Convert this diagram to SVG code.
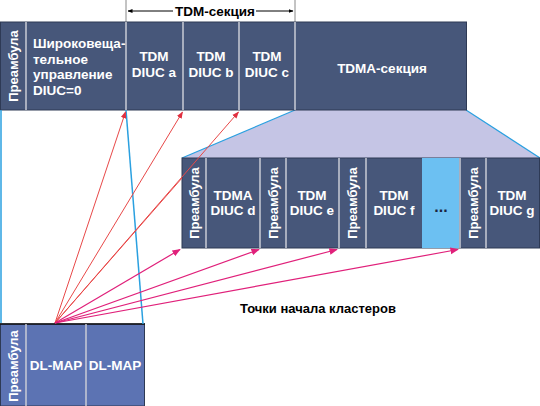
<svg xmlns="http://www.w3.org/2000/svg" width="540" height="406" viewBox="0 0 540 406">
<defs>
<style>
.cell{fill:#47577a;stroke:#2e3a55;stroke-width:1}
.map{fill:#5c73b3;stroke:#2e3a55;stroke-width:1}
.div{stroke:#c9cbd6;stroke-width:1.5}
.t{font-family:"Liberation Sans",Arial,sans-serif;font-weight:bold;font-size:13.5px;fill:#ffffff}
.tc{text-anchor:middle}
.pr{font-family:"Liberation Sans",Arial,sans-serif;font-weight:bold;font-size:13px;fill:#ffffff;text-anchor:middle}
.red{stroke:#e84848;stroke-width:1;fill:none}
.pink{stroke:#e0207a;stroke-width:1.2;fill:none}
.blue{stroke:#2aa0e0;stroke-width:1.5;fill:none}
</style>
<marker id="ar" viewBox="0 0 10 10" refX="9" refY="5" markerWidth="7" markerHeight="7" orient="auto"><path d="M0,1 L10,5 L0,9 z" fill="#e03040"/></marker>
<marker id="ap" viewBox="0 0 10 10" refX="9" refY="5" markerWidth="7" markerHeight="7" orient="auto"><path d="M0,1 L10,5 L0,9 z" fill="#e0207a"/></marker>
<marker id="ak" viewBox="0 0 10 10" refX="9" refY="5" markerWidth="5" markerHeight="5" orient="auto"><path d="M0,1 L10,5 L0,9 z" fill="#000"/></marker>
</defs>

<!-- TDM section label -->
<g id="tdm-label">
<line x1="126" y1="0" x2="126" y2="22" stroke="#888" stroke-width="1"/>
<line x1="295" y1="0" x2="295" y2="22" stroke="#888" stroke-width="1"/>
<line x1="173" y1="11" x2="128" y2="11" stroke="#000" stroke-width="1" marker-end="url(#ak)"/>
<line x1="256" y1="11" x2="293" y2="11" stroke="#000" stroke-width="1" marker-end="url(#ak)"/>
<text x="215" y="16" font-family="Liberation Sans,Arial,sans-serif" font-weight="bold" font-size="13.5" text-anchor="middle" fill="#000">TDM-секция</text>
</g>

<!-- trapezoid -->
<g id="zoom">
<polygon points="295,110 466,110 540,158 182,158" fill="#c5c5e5"/>
<line x1="295" y1="110" x2="182" y2="158" stroke="#2aa0e0" stroke-width="1.2"/>
<line x1="466" y1="110" x2="540" y2="158" stroke="#2aa0e0" stroke-width="1.2"/>
</g>

<!-- top bar -->
<g id="top-bar">
<rect class="cell" x="0.5" y="22" width="466" height="88"/>
<line class="div" x1="26" y1="22" x2="26" y2="110"/>
<line class="div" x1="126" y1="22" x2="126" y2="110"/>
<line class="div" x1="183" y1="22" x2="183" y2="110"/>
<line class="div" x1="239" y1="22" x2="239" y2="110"/>
<line class="div" x1="295" y1="22" x2="295" y2="110"/>
<text class="pr" transform="translate(18,66) rotate(-90)">Преамбула</text>
<text class="t" x="33" y="48">Широковеща-</text>
<text class="t" x="33" y="64">тельное</text>
<text class="t" x="33" y="79">управление</text>
<text class="t" x="33" y="95">DIUC=0</text>
<text class="t tc" x="154" y="61">TDM</text>
<text class="t tc" x="154" y="77">DIUC a</text>
<text class="t tc" x="211" y="61">TDM</text>
<text class="t tc" x="211" y="77">DIUC b</text>
<text class="t tc" x="267" y="61">TDM</text>
<text class="t tc" x="267" y="77">DIUC c</text>
<text class="t tc" x="382" y="73">TDMA-секция</text>
</g>

<!-- bottom bar -->
<g id="bottom-bar">
<rect class="cell" x="182" y="158" width="357.5" height="90"/>
<rect x="422" y="158" width="37" height="90" fill="#6cc0f2"/>
<line class="div" x1="206" y1="158" x2="206" y2="248"/>
<line class="div" x1="260" y1="158" x2="260" y2="248"/>
<line class="div" x1="286" y1="158" x2="286" y2="248"/>
<line class="div" x1="339" y1="158" x2="339" y2="248"/>
<line class="div" x1="366" y1="158" x2="366" y2="248"/>
<line class="div" x1="460" y1="158" x2="460" y2="248"/>
<line class="div" x1="486" y1="158" x2="486" y2="248"/>
<text class="pr" transform="translate(199,203) rotate(-90)">Преамбула</text>
<text class="t tc" x="233" y="200">TDMA</text>
<text class="t tc" x="233" y="215">DIUC d</text>
<text class="pr" transform="translate(278,203) rotate(-90)">Преамбула</text>
<text class="t tc" x="312" y="200">TDM</text>
<text class="t tc" x="312" y="215">DIUC e</text>
<text class="pr" transform="translate(357,203) rotate(-90)">Преамбула</text>
<text class="t tc" x="394" y="200">TDM</text>
<text class="t tc" x="394" y="215">DIUC f</text>
<text x="441" y="212" font-family="Liberation Sans,Arial,sans-serif" font-weight="bold" font-size="16" text-anchor="middle" fill="#1a2440">...</text>
<text class="pr" transform="translate(478,203) rotate(-90)">Преамбула</text>
<text class="t tc" x="512" y="200">TDM</text>
<text class="t tc" x="512" y="215">DIUC g</text>
</g>

<!-- DL-MAP block -->
<g id="dlmap">
<rect class="map" x="0.5" y="324" width="144" height="82"/>
<line x1="0" y1="324" x2="145" y2="324" stroke="#111" stroke-width="1.5"/>
<line class="div" x1="26" y1="324" x2="26" y2="406"/>
<line class="div" x1="86" y1="324" x2="86" y2="406"/>
<text class="pr" transform="translate(18,366) rotate(-90)">Преамбула</text>
<text class="t tc" x="56" y="370">DL-MAP</text>
<text class="t tc" x="115" y="370">DL-MAP</text>
</g>

<!-- connectors -->
<g id="connectors">
<line class="blue" x1="1" y1="110" x2="1" y2="323"/>
<line class="blue" x1="126" y1="110" x2="143" y2="324"/>
<line class="red" x1="55" y1="323" x2="125.5" y2="112" marker-end="url(#ar)"/>
<line class="red" x1="55" y1="323" x2="182.5" y2="112" marker-end="url(#ar)"/>
<line class="red" x1="55" y1="323" x2="238.5" y2="112" marker-end="url(#ar)"/>
<line class="red" x1="55" y1="323" x2="182" y2="178"/>
<line class="pink" x1="55" y1="323" x2="180" y2="249.5" marker-end="url(#ap)"/>
<line class="pink" x1="55" y1="323" x2="259" y2="249.5" marker-end="url(#ap)"/>
<line class="pink" x1="55" y1="323" x2="337" y2="249.5" marker-end="url(#ap)"/>
<line class="pink" x1="55" y1="323" x2="458" y2="249.5" marker-end="url(#ap)"/>
</g>

<text x="318" y="313" font-family="Liberation Sans,Arial,sans-serif" font-weight="bold" font-size="13" text-anchor="middle" fill="#000">Точки начала кластеров</text>
</svg>
